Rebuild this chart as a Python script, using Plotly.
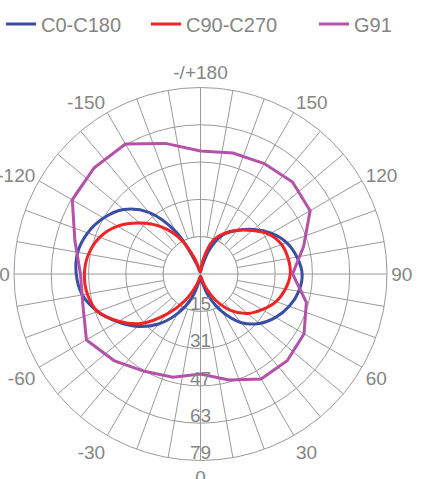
import plotly.graph_objects as go

# ---- data ----
theta_c = list(range(-180, 181, 10))
c0_c180 = [0, 0, 3, 19.5, 33.5, 42, 47, 50.5, 52.5, 52.3, 50.5, 46, 40, 34, 27, 18.5, 10, 2,
           0, 2, 9, 17.8, 26.3, 32, 36.2, 39.5, 41.8, 42.6, 41, 38.3, 34, 28.7, 23.3, 18.4, 10, 1.5, 0]
c90_c270 = [0, 0, 5.5, 16.5, 25.5, 33, 40, 45, 47.8, 48.8, 48.3, 46, 39.5, 32, 21.5, 12, 4, 0.5,
            0, 0.5, 4.5, 12, 19.5, 25.3, 29.5, 33.5, 36, 37.5, 37.2, 36, 33, 28, 23.5, 19, 14, 5, 0]
theta_g = list(range(-180, 181, 15))
g91 = [51.8, 57, 63.4, 63.5, 62.5, 54.8, 50.5, 51.2, 55.5, 51.5, 47.2, 44.8,
       41.9, 46.1, 51.0, 51.6, 50.3, 46, 38.5, 44.8, 53.3, 54.8, 53.7, 52.7, 51.8]

angle_ticks = list(range(0, 360, 10))
angle_labels = {0: "0", 30: "30", 60: "60", 90: "90", 120: "120", 150: "150", 180: "-/+180",
                210: "-150", 240: "-120", 270: "-90", 300: "-60", 330: "-30"}
radial_min, radial_max = -1, 79
radial_ticks = [15, 31, 47, 63, 79]
radial_labels = ["15", "31", "47", "63", "79"]
center_label = "0"

names = ["C0-C180", "C90-C270", "G91"]
colors = ["#3a4ea3", "#f02424", "#b352a8"]

GRID = "#9a9a9a"
TEXT = "#858585"
FONT = "Liberation Sans"
LABEL_RAISE = 2.6  # radial-label offset (axis units) so text sits just above its ring

fig = go.Figure()

# center label (under curves)
fig.add_trace(go.Scatterpolar(r=[radial_min], theta=[0], mode="text", text=[center_label],
                              textposition="top center", textfont=dict(size=19, color=TEXT, family=FONT),
                              showlegend=False, hoverinfo="skip"))
# inner hole: white disc over spokes, with axis cross
hole_r = radial_ticks[0]
circ_t = list(range(0, 361, 5))
fig.add_trace(go.Scatterpolar(r=[hole_r] * len(circ_t), theta=circ_t, mode="lines", fill="toself",
                              fillcolor="white", line=dict(color=GRID, width=1),
                              showlegend=False, hoverinfo="skip"))
for a in (0, 90):
    fig.add_trace(go.Scatterpolar(r=[hole_r, hole_r], theta=[a, a + 180], mode="lines",
                                  line=dict(color=GRID, width=1), showlegend=False, hoverinfo="skip"))

series = [(theta_c, c0_c180, "spline"), (theta_c, c90_c270, "spline"), (theta_g, g91, "linear")]
for i, (th, rv, shape) in enumerate(series):
    fig.add_trace(go.Scatterpolar(r=rv, theta=th, mode="lines", name=names[i],
                                  line=dict(color=colors[i], width=3, shape=shape),
                                  legend="legend" if i == 0 else f"legend{i+1}"))

fig.add_trace(go.Scatterpolar(r=[t - LABEL_RAISE for t in radial_ticks], theta=[0] * len(radial_ticks),
                              mode="text", text=radial_labels, textposition="middle center",
                              textfont=dict(size=19, color=TEXT, family=FONT),
                              showlegend=False, hoverinfo="skip"))

W, H = 429, 479
cx, cy, R = 200.5, 274, 186.5
leg_font = dict(size=20, color=TEXT, family=FONT)
leg_common = dict(orientation="h", yanchor="middle", y=1 - 24 / H, xanchor="left",
                  font=leg_font, bgcolor="rgba(0,0,0,0)", borderwidth=0)
fig.update_layout(
    width=W, height=H, margin=dict(l=0, r=0, t=0, b=0),
    paper_bgcolor="white", plot_bgcolor="white",
    font=dict(family=FONT, color=TEXT, size=19),
    polar=dict(
        domain=dict(x=[(cx - R) / W, (cx + R) / W], y=[1 - (cy + R) / H, 1 - (cy - R) / H]),
        bgcolor="white",
        angularaxis=dict(rotation=-90, direction="counterclockwise", tickmode="array",
                         tickvals=angle_ticks,
                         ticktext=[angle_labels.get(t, "") for t in angle_ticks],
                         showgrid=True, gridcolor=GRID, gridwidth=1, showline=True,
                         linecolor=GRID, linewidth=1, ticks="",
                         tickfont=dict(size=19, color=TEXT, family=FONT)),
        radialaxis=dict(range=[radial_min, radial_max], tickmode="array", tickvals=radial_ticks,
                        showticklabels=False, ticks="", showgrid=True, gridcolor=GRID,
                        gridwidth=1, showline=False, angle=-90),
    ),
    legend=dict(x=1 / W, **leg_common),
    legend2=dict(x=146 / W, **leg_common),
    legend3=dict(x=314 / W, **leg_common),
)

fig.write_html("out.html", config={"displayModeBar": False},
               post_script="document.body.style.margin='0';document.body.style.overflow='hidden';")
